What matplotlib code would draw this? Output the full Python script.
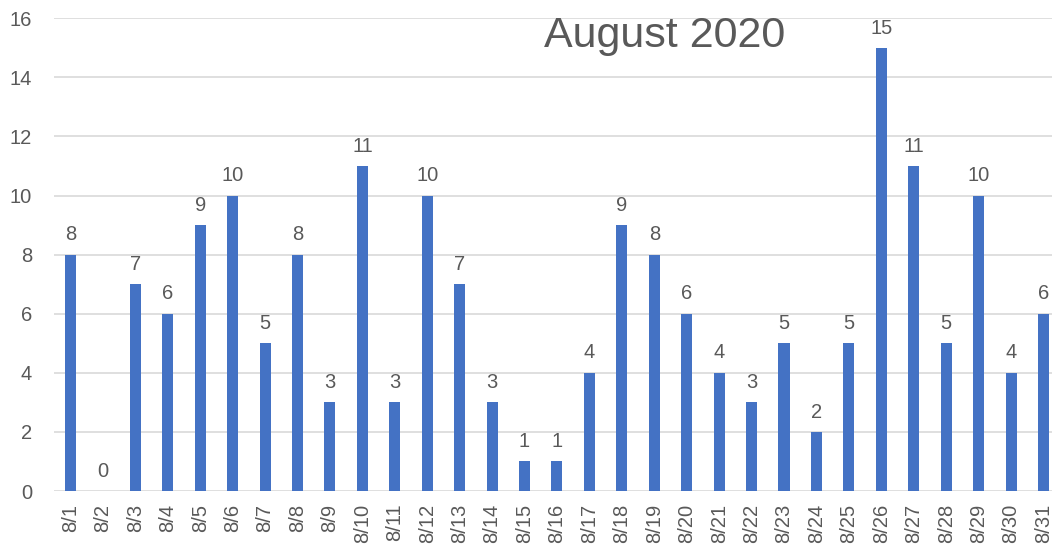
import numpy as np
import matplotlib.pyplot as plt

plt.rcParams['font.family'] = ['Liberation Sans', 'DejaVu Sans']

dates = ["8/%d" % d for d in range(1, 32)]
counts = [8, 0, 7, 6, 9, 10, 5, 8, 3, 11, 3, 10, 7, 3, 1, 1, 4, 9, 8, 6,
          4, 3, 5, 2, 5, 15, 11, 5, 10, 4, 6]

txt = '#595959'
fig = plt.figure(figsize=(10.52, 5.55), dpi=100)
ax = fig.add_axes([0.0516, 0.1153, 0.9557, 0.8517])

x = np.arange(len(dates))
bars = ax.bar(x, counts, width=0.34, color='#4472C4', zorder=3)
for xi, v in zip(x, counts):
    ax.text(xi, v + 0.35, str(v), ha='center', va='bottom', fontsize=14.5, color=txt)

ax.set_xlim(-0.5, len(dates) - 0.5)
ax.set_ylim(0, 16)
ax.set_yticks(np.arange(0, 17, 2))
ax.set_xticks(x)
ax.set_xticklabels(dates, rotation=90, fontsize=14.5, color=txt)
ax.tick_params(axis='y', labelsize=14.5, labelcolor=txt, length=0, pad=16)
ax.tick_params(axis='x', length=0, pad=9)
ax.grid(axis='y', color='#D9D9D9', linewidth=1.2, zorder=0)
for s in ax.spines.values():
    s.set_visible(False)

fig.text(665 / 1052, 1 - 36 / 555, 'August 2020', ha='center', va='center',
         fontsize=31, color=txt)

fig.savefig('out.png', dpi=100)
